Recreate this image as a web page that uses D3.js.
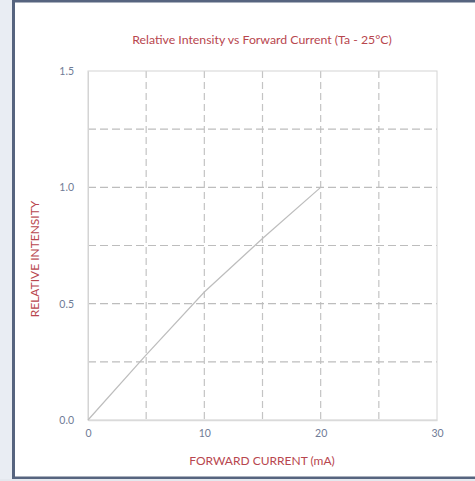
<!DOCTYPE html>
<html>
<head>
<meta charset="utf-8">
<script src="https://cdn.jsdelivr.net/npm/d3@7/dist/d3.min.js"></script>
<style>
  html, body { margin: 0; padding: 0; background: #ffffff; }
  svg { display: block; }
</style>
</head>
<body>
<script>
const title = "Relative Intensity vs Forward Current (Ta - 25°C)";
const xLabel = "FORWARD CURRENT (mA)";
const yLabel = "RELATIVE INTENSITY";
const currents = [0, 5, 10, 15, 20];
const intensities = [0, 0.28, 0.55, 0.78, 1.0];
const xTicks = [0, 10, 20, 30];
const yTicks = [0, 0.5, 1.0, 1.5];
const xGrid = [5, 10, 15, 20, 25];
const yGrid = [0.25, 0.5, 0.75, 1.0, 1.25];

const W = 475, H = 481;
const svg = d3.select("body").append("svg").attr("width", W).attr("height", H);

// page frame
svg.append("rect").attr("x", 0).attr("y", 0).attr("width", W).attr("height", H).attr("fill", "#ffffff");
svg.append("rect").attr("x", 0).attr("y", 0).attr("width", 12).attr("height", H).attr("fill", "#e9edf3");
svg.append("rect").attr("x", 0).attr("y", 479).attr("width", W).attr("height", 2).attr("fill", "#e4e8ee");
svg.append("rect").attr("x", 12).attr("y", 0).attr("width", 3).attr("height", 479).attr("fill", "#56647f");
svg.append("rect").attr("x", 12).attr("y", 0).attr("width", W - 12).attr("height", 2.5).attr("fill", "#56647f");
svg.append("rect").attr("x", 12).attr("y", 476.5).attr("width", W - 12).attr("height", 2.5).attr("fill", "#56647f");

const x = d3.scaleLinear().domain([0, 30]).range([88, 437]);
const y = d3.scaleLinear().domain([0, 1.5]).range([420, 71]);

const font = "Lato, 'Noto Sans', sans-serif";

// title
svg.append("text").attr("x", 262).attr("y", 44).attr("text-anchor", "middle")
  .attr("font-family", font).attr("font-size", 12.3).attr("fill", "#b8464e").text(title);

// grid
const g = svg.append("g");
g.selectAll(".vg").data(xGrid).enter().append("line")
  .attr("x1", d => x(d)).attr("x2", d => x(d)).attr("y1", y(1.5)).attr("y2", y(0))
  .attr("stroke", "#c4c4c4").attr("stroke-width", 1.2).attr("stroke-dasharray", "7,4");
g.selectAll(".hg").data(yGrid).enter().append("line")
  .attr("x1", x(0)).attr("x2", x(30)).attr("y1", d => y(d)).attr("y2", d => y(d))
  .attr("stroke", "#bdbdbd").attr("stroke-width", 1.2).attr("stroke-dasharray", "8,4");

// plot border
svg.append("rect").attr("x", x(0)).attr("y", y(1.5)).attr("width", x(30) - x(0)).attr("height", y(0) - y(1.5))
  .attr("fill", "none").attr("stroke", "#d4d4d4").attr("stroke-width", 1);

// axes
const xAxis = svg.append("g").attr("transform", `translate(0,${y(0)})`)
  .call(d3.axisBottom(x).tickValues(xTicks).tickSize(0).tickPadding(10).tickFormat(d3.format("d")));
xAxis.select(".domain").attr("stroke", "#dadada").attr("stroke-width", 1.5);
xAxis.selectAll("text").attr("font-family", font).attr("font-size", 10.5).attr("fill", "#6f7b96");

const yAxis = svg.append("g").attr("transform", `translate(${x(0)},0)`)
  .call(d3.axisLeft(y).tickValues(yTicks).tickSize(0).tickPadding(14).tickFormat(d3.format(".1f")));
yAxis.select(".domain").attr("stroke", "#d4d4d4");
yAxis.selectAll("text").attr("font-family", font).attr("font-size", 10.5).attr("fill", "#6f7b96");

// line
const line = d3.line().x((d, i) => x(currents[i])).y(d => y(d));
svg.append("path").datum(intensities).attr("d", line)
  .attr("fill", "none").attr("stroke", "#bdbdbd").attr("stroke-width", 1.2);

// axis labels
svg.append("text").attr("x", 262).attr("y", 465).attr("text-anchor", "middle")
  .attr("font-family", font).attr("font-size", 12).attr("fill", "#b8464e").text(xLabel);
svg.append("text").attr("transform", "translate(39,259) rotate(-90)").attr("text-anchor", "middle")
  .attr("font-family", font).attr("font-size", 12).attr("fill", "#b8464e").text(yLabel);
</script>
</body>
</html>
